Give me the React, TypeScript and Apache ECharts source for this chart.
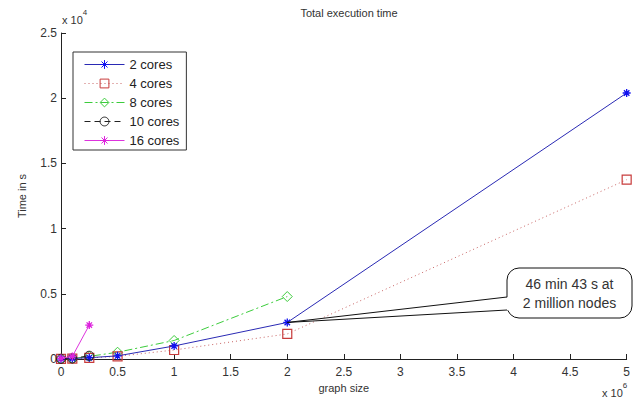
import React, { useEffect, useRef } from "react";
import * as echarts from "echarts";

const xValues = [0, 100000, 250000, 500000, 1000000, 2000000, 5000000];
const cores2 = [20, 40, 100, 240, 1000, 2803, 20400];
const cores4 = [15, 30, 80, 200, 690, 1920, 13750];
const cores8 = [10, 30, 200, 520, 1420, 4790];
const cores10 = [10, 40, 250];
const cores16 = [50, 200, 2600];
const seriesNames = ["2 cores", "4 cores", "8 cores", "10 cores", "16 cores"];
const xTicks = ["0", "0.5", "1", "1.5", "2", "2.5", "3", "3.5", "4", "4.5", "5"];
const yTicks = ["0", "0.5", "1", "1.5", "2", "2.5"];
const noteLines = ["46 min 43 s at", "2 million nodes"];

const FONT = "Liberation Sans, Arial, sans-serif";
const STAR = "path://M5 0L5 10M0 5L10 5M1.6 1.6L8.4 8.4M8.4 1.6L1.6 8.4";

const pairs = (ys: number[]) => ys.map((y, i) => [xValues[i], y]);

export default function App() {
  const ref = useRef<HTMLDivElement>(null);
  useEffect(() => {
    const chart = echarts.init(ref.current!, null, { renderer: "svg" });
    const option: any = {
      animation: false,
      backgroundColor: "#ffffff",
      title: {
        text: "Total execution time",
        left: 344,
        top: 2,
        textAlign: "center",
        textStyle: { fontFamily: FONT, fontSize: 11, fontWeight: "normal", color: "#333" },
      },
      grid: { left: 61, right: 6, top: 33, bottom: 43, containLabel: false },
      legend: {
        orient: "vertical",
        left: 73,
        top: 52,
        padding: [6, 7, 3, 11],
        itemWidth: 40,
        itemHeight: 11,
        itemGap: 6,
        borderColor: "#333",
        borderWidth: 1,
        backgroundColor: "#fff",
        lineStyle: { width: 1 },
        itemStyle: { borderWidth: 1 },
        textStyle: { fontFamily: FONT, fontSize: 13, lineHeight: 13, color: "#222" },
        data: seriesNames,
      },
      xAxis: {
        type: "value",
        min: 0,
        max: 5000000,
        interval: 500000,
        name: "graph size",
        nameLocation: "middle",
        nameGap: 17,
        nameTextStyle: { fontFamily: FONT, fontSize: 11, color: "#333" },
        axisLine: { lineStyle: { color: "#222", width: 1 } },
        axisTick: { inside: true, length: 5, lineStyle: { color: "#222" } },
        axisLabel: {
          fontFamily: FONT,
          fontSize: 12,
          color: "#333",
          margin: 7,
          formatter: (v: number) => xTicks[Math.round(v / 500000)],
        },
        splitLine: { show: false },
      },
      yAxis: {
        type: "value",
        min: 0,
        max: 25000,
        interval: 5000,
        name: "Time in s",
        nameLocation: "middle",
        nameGap: 34,
        nameTextStyle: { fontFamily: FONT, fontSize: 11, color: "#333" },
        axisLine: { show: true, lineStyle: { color: "#222", width: 1 } },
        axisTick: { show: true, inside: true, length: 5, lineStyle: { color: "#222" } },
        axisLabel: {
          fontFamily: FONT,
          fontSize: 12,
          color: "#333",
          margin: 4,
          formatter: (v: number) => yTicks[Math.round(v / 5000)],
        },
        splitLine: { show: false },
      },
      series: [
        {
          name: seriesNames[0],
          type: "line",
          data: pairs(cores2),
          symbol: STAR,
          symbolSize: 8,
          showAllSymbol: true,
          itemStyle: { color: "#1010ee", borderColor: "#1010ee", borderWidth: 1.3 },
          lineStyle: { color: "#2a2ab4", width: 1 },
          z: 5,
        },
        {
          name: seriesNames[1],
          type: "line",
          data: pairs(cores4),
          symbol: "rect",
          symbolSize: 9,
          showAllSymbol: true,
          itemStyle: { color: "rgba(255,255,255,0)", borderColor: "#c83c3c", borderWidth: 1.2 },
          lineStyle: { color: "#c86464", width: 1, type: [1, 3] },
          z: 4,
        },
        {
          name: seriesNames[2],
          type: "line",
          data: pairs(cores8),
          symbol: "diamond",
          symbolSize: 10,
          showAllSymbol: true,
          itemStyle: { color: "rgba(255,255,255,0)", borderColor: "#3ccc3c", borderWidth: 1 },
          lineStyle: { color: "#3ccc3c", width: 1, type: [8, 3, 2, 3] },
          z: 3,
        },
        {
          name: seriesNames[3],
          type: "line",
          data: pairs(cores10),
          symbol: "circle",
          symbolSize: 9,
          showAllSymbol: true,
          itemStyle: { color: "rgba(255,255,255,0)", borderColor: "#222", borderWidth: 1 },
          lineStyle: { color: "#222", width: 1, type: [6, 4] },
          z: 6,
        },
        {
          name: seriesNames[4],
          type: "line",
          data: pairs(cores16),
          symbol: STAR,
          symbolSize: 8,
          showAllSymbol: true,
          itemStyle: { color: "#dd22dd", borderColor: "#dd22dd", borderWidth: 1.3 },
          lineStyle: { color: "#dd33dd", width: 1 },
          z: 7,
        },
      ],
    };
    chart.setOption(option);
    const tip = chart.convertToPixel({ gridIndex: 0 }, [xValues[5], cores2[5]]) as number[];
    const bx = 507, by = 268, bw = 125, bh = 50;
    const expo = (t: string) => ({
      text: "{a|x 10}{b|" + t + "}",
      rich: {
        a: { fontFamily: FONT, fontSize: 11, fill: "#333", padding: [6, 0, 0, 0] },
        b: { fontFamily: FONT, fontSize: 8, fill: "#333", verticalAlign: "top", padding: [0, 0, 6, 0] },
      },
    });
    chart.setOption({
      graphic: [
        { type: "text", left: 62, top: 8, style: expo("4") },
        { type: "text", left: 602, top: 381, style: expo("6") },
        {
          type: "rect",
          shape: { x: bx, y: by, width: bw, height: bh, r: 12 },
          style: { fill: "#fff", stroke: "#111", lineWidth: 1 },
          z: 20,
        },
        {
          type: "polygon",
          shape: { points: [[tip[0], tip[1]], [bx + 2, 297], [bx + 2, 310]] },
          style: { fill: "#fff", stroke: "none" },
          z: 21,
        },
        {
          type: "polyline",
          shape: { points: [[bx, 297], [tip[0], tip[1]], [bx, 310]] },
          style: { stroke: "#111", lineWidth: 1, fill: "none" },
          z: 22,
        },
        {
          type: "text",
          x: bx + bw / 2,
          y: by + bh / 2,
          style: {
            text: noteLines.join("\n"),
            fontFamily: FONT,
            fontSize: 14,
            lineHeight: 19,
            fill: "#333",
            align: "center",
            verticalAlign: "middle",
          },
          z: 23,
        },
      ],
    });
    return () => chart.dispose();
  }, []);
  return (
    <div
      ref={ref}
      style={{ position: "absolute", left: 0, top: 0, width: 633, height: 402 }}
    />
  );
}
